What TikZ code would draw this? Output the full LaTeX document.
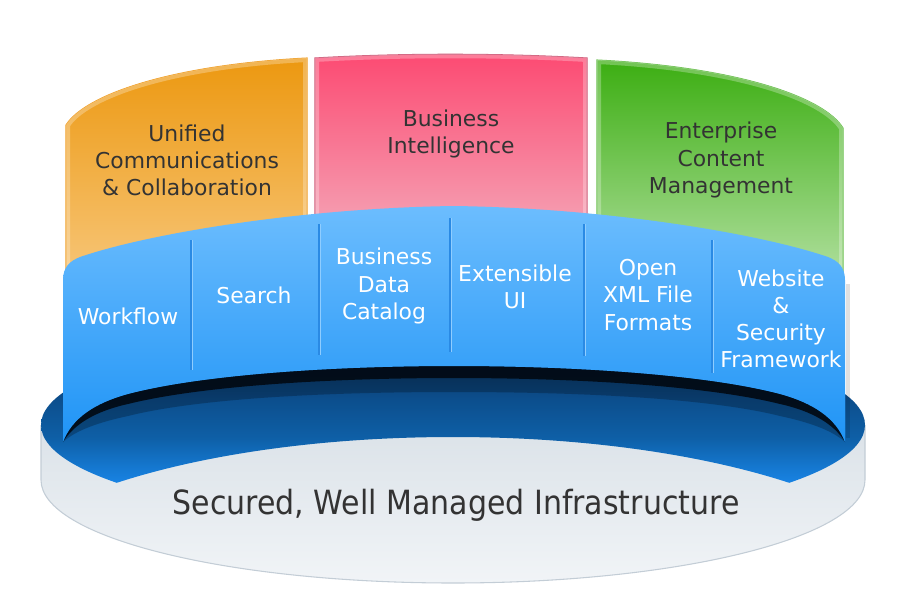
\documentclass[tikz,border=0pt]{standalone}
\usepackage{fontspec}
\setmainfont{DejaVu Sans}
\newfontfamily\condfont{DejaVu Sans}[FakeStretch=0.9]
\definecolor{baseTop}{HTML}{CDD7DF}
\definecolor{baseBot}{HTML}{F1F4F7}
\definecolor{baseEdge}{HTML}{C3CDD6}
\definecolor{ringA}{HTML}{0A3A6A}
\definecolor{ringB}{HTML}{0C4F8E}
\definecolor{ringC}{HTML}{0E5FA6}
\definecolor{ringD}{HTML}{157AD4}
\definecolor{ringE}{HTML}{1B88EC}
\definecolor{bandTop}{HTML}{6CBDFE}
\definecolor{bandBot}{HTML}{1F94F6}
\definecolor{bandDiv}{HTML}{8FCDFF}
\definecolor{bandDivDark}{HTML}{2A8AE4}
\definecolor{orTop}{HTML}{EC9810}
\definecolor{orBot}{HTML}{F8CA82}
\definecolor{orEdge}{HTML}{F0A028}
\definecolor{pkTop}{HTML}{FC4A72}
\definecolor{pkBot}{HTML}{F2C4CE}
\definecolor{pkEdge}{HTML}{D05A78}
\definecolor{grTop}{HTML}{3CAE12}
\definecolor{grBot}{HTML}{BCE4AC}
\definecolor{grEdge}{HTML}{6CC050}
\definecolor{txtDark}{HTML}{333333}
\definecolor{shadowDark}{HTML}{020A14}
% shading mapped to bbox y 325..757 (25bp = 757, 75bp = 325)
\pgfdeclareverticalshading{ringshade}{100bp}{color(0bp)=(ringE); color(55.9bp)=(ringE); color(58.2bp)=(ringD); color(62bp)=(ringC); color(66.3bp)=(ringB); color(70.3bp)=(ringA); color(100bp)=(ringA)}
\tikzset{
  paneltext/.style={text=txtDark, align=center, font=\fontsize{16.4}{20.3}\selectfont},
  bandtext/.style={text=white, align=center, font=\fontsize{16.4}{20.3}\selectfont},
  divlight/.style={draw=bandDiv, line width=1.3},
  divdark/.style={draw=bandDivDark, line width=1.3},
  glow/.style={draw=white, line width=6, opacity=0.28}
}
\def\orangepath{(66,300) -- (66,125) .. controls (85,95) and (170,65) .. (307,58) -- (307,300) -- cycle}
\def\pinkpath{(315,300) -- (315,58) .. controls (400,53) and (500,53) .. (587,58) -- (587,300) -- cycle}
\def\greenpath{(597,300) -- (597,60) .. controls (737,67) and (824,97) .. (843,128) -- (843,300) -- cycle}
\def\bandbottom{(845,442) .. controls (836,418) and (813,403) .. (780,394) .. controls (708,375) and (578,366) .. (454,366) .. controls (330,366) and (200,375) .. (128,394) .. controls (95,403) and (72,418) .. (63,442)}
\newcommand\banddivider[3]{%
  \path[divdark] (#1-0.9,#2) -- (#1-0.9,#3);
  \path[divlight] (#1+0.6,#2) -- (#1+0.6,#3);}
\begin{document}
\begin{tikzpicture}[x=0.75pt,y=-0.75pt]
\useasboundingbox (0,0) rectangle (900,600);
% ---------- panels ----------
\path[top color=orTop, bottom color=orBot, draw=orEdge, line width=0.8] \orangepath;
\begin{scope}\clip \orangepath; \path[glow] \orangepath; \end{scope}
\path[top color=pkTop, bottom color=pkBot, draw=pkEdge, line width=0.8] \pinkpath;
\begin{scope}\clip \pinkpath; \path[glow] \pinkpath; \end{scope}
\path[top color=grTop, bottom color=grBot, draw=grEdge, line width=0.8] \greenpath;
\begin{scope}\clip \greenpath; \path[glow] \greenpath; \end{scope}
\node[paneltext] (ucc) at (187,160) {Unified\\Communications\\\& Collaboration};
\node[paneltext] (bi) at (451,134) {Business\\Intelligence};
\node[paneltext] (ecm) at (721,160) {Enterprise\\Content\\Management};
% ---------- base cylinder ----------
\path[top color=baseTop, bottom color=baseBot]
  (41,425) -- (41,480) arc[start angle=180, end angle=0, x radius=412, y radius=103] -- (865,425)
  arc[start angle=0, end angle=-180, x radius=412, y radius=100] -- cycle;
\draw[baseEdge, line width=0.8] (41,425) -- (41,480) arc[start angle=180, end angle=0, x radius=412, y radius=103] -- (865,425);
\begin{scope}[even odd rule]
  \clip (453,425) ellipse[x radius=412, y radius=100];
  \path[shading=ringshade] (0,325) rectangle (900,757) (453,597) ellipse[x radius=480, y radius=160];
  \clip (0,300) rectangle (900,600) (453,597) ellipse[x radius=480, y radius=160];
  % soft outer shadow
  \fill[shadowDark, opacity=0.28] \bandbottom
    .. controls (76,430) and (100,422) .. (128,416)
    .. controls (200,398) and (330,392) .. (454,392)
    .. controls (578,392) and (708,398) .. (780,416)
    .. controls (808,422) and (832,430) .. (845,442) -- cycle;
  % dark core shadow
  \fill[shadowDark, opacity=0.92] \bandbottom
    .. controls (74,424) and (96,411) .. (128,404)
    .. controls (200,386) and (330,378) .. (454,378)
    .. controls (578,378) and (708,386) .. (780,404)
    .. controls (812,411) and (834,424) .. (845,442) -- cycle;
\end{scope}
\node[text=txtDark, font=\condfont\fontsize{25}{30}\selectfont] (infra) at (456,505) {Secured, Well Managed Infrastructure};
% ---------- blue band ----------
\draw[black, opacity=0.12, line width=3] (848,284) -- (848,438);
\path[top color=bandTop, bottom color=bandBot]
  (63,442) -- (63,280) .. controls (63,267) and (70,261) .. (80,257)
  .. controls (150,233) and (304,208) .. (454,206)
  .. controls (604,208) and (758,233) .. (828,257)
  .. controls (838,261) and (845,267) .. (845,280)
  -- \bandbottom -- cycle;
\banddivider{192}{240}{370}
\banddivider{320}{224}{355}
\banddivider{451}{218}{352}
\banddivider{585}{224}{356}
\banddivider{713}{240}{373}
\node[bandtext] (wf) at (128,316) {Workflow};
\node[bandtext] (se) at (254,295) {Search};
\node[bandtext] (bdc) at (384,286) {Business\\Data\\Catalog};
\node[bandtext] (ext) at (515,287) {Extensible\\UI};
\node[bandtext] (xml) at (648,295) {Open\\XML File\\Formats};
\node[bandtext] (web) at (781,319) {Website\\\&\\Security\\Framework};
\end{tikzpicture}
\end{document}
